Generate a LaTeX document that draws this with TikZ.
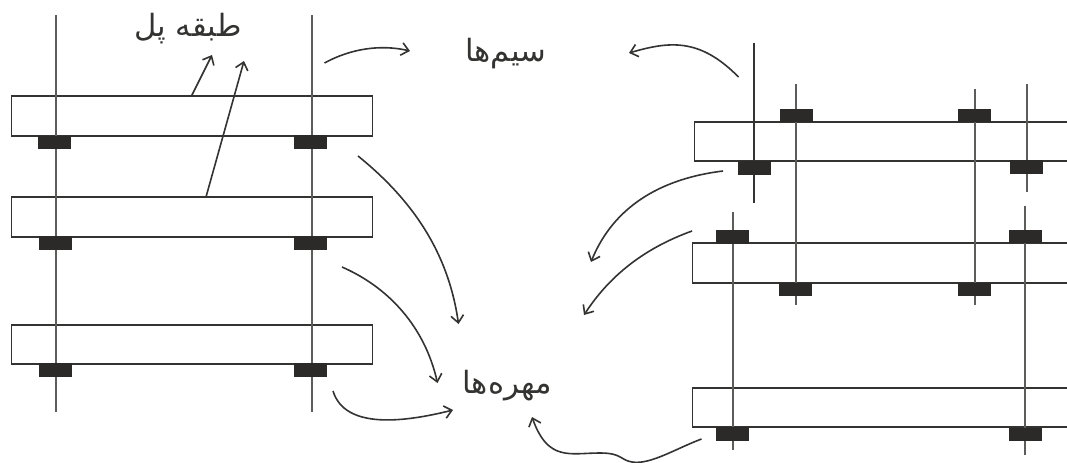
\documentclass[tikz,border=0pt]{standalone}
\usepackage{fontspec}
\usetikzlibrary{arrows.meta}
\newfontfamily\arabicfont[Script=Arabic]{DejaVu Sans}
\TeXXeTstate=1
\definecolor{ink}{HTML}{333332}
\definecolor{nutink}{HTML}{2B2A29}
\tikzset{
  x=0.75pt,y=-0.75pt,
  plate/.style 2 args={draw=ink,line width=1.2pt,fill=none,inner sep=0pt,outer sep=0pt,minimum width=#1*0.75pt,minimum height=#2*0.75pt},
  nut/.style={fill=nutink,draw=none,inner sep=0pt,outer sep=0pt,minimum width=33*0.75pt,minimum height=13.5*0.75pt},
  rod/.style={draw=ink!80,line width=1.2pt},
  rodbold/.style={draw=ink,line width=1.5pt},
  callout/.style={draw=ink,line width=1.2pt,-{Straight Barb[length=5.5pt,width=9.5pt,line width=1.2pt]}},
  label/.style={inner sep=0pt,text=ink,font=\arabicfont\fontsize{23}{26}\selectfont}
}
\begin{document}
\begin{tikzpicture}
\useasboundingbox (0,0) rectangle (1067,463);
\clip (0,0) rectangle (1067,463);
% left assembly: plates
\node[plate={361}{39.5}] (LA) at (192,116) {};
\node[plate={361}{39.5}] (LB) at (192,217) {};
\node[plate={361}{39.5}] (LC) at (192,344.5) {};
% left assembly: rods
\coordinate (r1t) at (56,15.5); \coordinate (r1b) at (56,411.5);
\coordinate (r2t) at (312,15.5); \coordinate (r2b) at (312,411.5);
\draw[rod] (r1t) -- (r1b);
\draw[rod] (r2t) -- (r2b);
% left assembly: nuts
\node[nut] (n1) at (54.5,142.5) {};
\node[nut] (n2) at (310.5,142) {};
\node[nut] (n3) at (55,243) {};
\node[nut] (n4) at (310.5,243) {};
\node[nut] (n5) at (55,370) {};
\node[nut] (n6) at (310.5,370) {};
% right assembly: plates
\node[plate={376}{39.5}] (RA) at (882.5,141.5) {};
\node[plate={378}{39.5}] (RB) at (881.5,263) {};
\node[plate={378}{39.5}] (RC) at (881.5,407.5) {};
% right assembly: rods
\coordinate (s1t) at (754,43); \coordinate (s1b) at (754,203);
\coordinate (s2t) at (796,84); \coordinate (s2b) at (796,305);
\coordinate (s3t) at (975,89); \coordinate (s3b) at (975,305);
\coordinate (s4t) at (1027,84); \coordinate (s4b) at (1027,192);
\coordinate (s5t) at (733,212); \coordinate (s5b) at (733,450);
\coordinate (s6t) at (1025,206); \coordinate (s6b) at (1025,455);
\draw[rodbold] (s1t) -- (s1b);
\draw[rod] (s2t) -- (s2b);
\draw[rod] (s3t) -- (s3b);
\draw[rod] (s4t) -- (s4b);
\draw[rod] (s5t) -- (s5b);
\draw[rod] (s6t) -- (s6b);
% right assembly: nuts
\node[nut] (m1) at (796,115.5) {};
\node[nut] (m2) at (974.5,115.5) {};
\node[nut] (m3) at (754,168) {};
\node[nut] (m4) at (1026,167) {};
\node[nut] (m5) at (732,237) {};
\node[nut] (m6) at (1025.5,236.5) {};
\node[nut] (m7) at (795,289.5) {};
\node[nut] (m8) at (974.5,289.5) {};
\node[nut] (m9) at (732,434) {};
\node[nut] (m10) at (1025,434.5) {};
% labels
\node[label] (tabaghe) at (188,29) {\beginR طبقه پل\endR};
\node[label] (simha) at (505.5,54) {\beginR سیم‌ها\endR};
\node[label] (mohreha) at (507,386) {\beginR مهره‌ها\endR};
% callout ends
\coordinate (a1) at (191.5,96); \coordinate (a2) at (212,55);
\coordinate (b1) at (206,197); \coordinate (b2) at (244,61);
\coordinate (c1) at (324.5,63); \coordinate (c2) at (410,51);
\coordinate (d1) at (738.5,77); \coordinate (d2) at (629,53);
\coordinate (e1) at (358,156); \coordinate (e2) at (458.5,324);
\coordinate (f1) at (342,267); \coordinate (f2) at (437.5,383);
\coordinate (g1) at (333,391); \coordinate (g2) at (453,410);
\coordinate (h1) at (723,171); \coordinate (h2) at (591,262);
\coordinate (i1) at (692,231); \coordinate (i2) at (584,315);
\coordinate (j1) at (701.5,439); \coordinate (j2) at (532,417);
\draw[callout] (a1) -- (a2);
\draw[callout] (b1) -- (b2);
\draw[callout] (c1) .. controls (350,49) and (380,44) .. (c2);
\draw[callout] (d1) .. controls (700,38) and (670,41) .. (d2);
\draw[callout] (e1) .. controls (410,198) and (448,250) .. (e2);
\draw[callout] (f1) .. controls (390,288) and (425,328) .. (f2);
\draw[callout] (g1) .. controls (345,430) and (405,422) .. (g2);
\draw[callout] (h1) .. controls (650,180) and (610,215) .. (h2);
\draw[callout] (i1) .. controls (645,248) and (610,275) .. (i2);
\draw[callout] (j1) .. controls (675,449) and (650,465) .. (632,462)
  .. controls (620,460) and (622,453) .. (600,453)
  .. controls (570,453) and (548,462) .. (j2);
\end{tikzpicture}
\end{document}
